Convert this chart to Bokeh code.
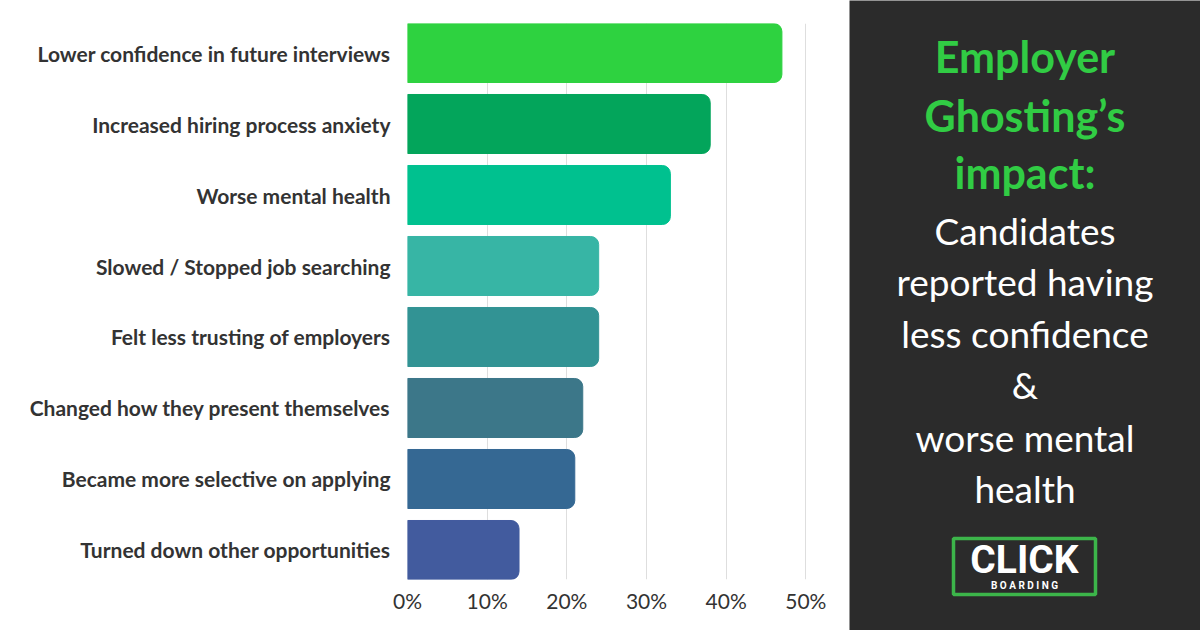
from bokeh.plotting import figure
from bokeh.layouts import row, column
from bokeh.models import (ColumnDataSource, Range1d, FixedTicker, PrintfTickFormatter)
from bokeh.core.properties import value
from bokeh.embed import file_html
from bokeh.resources import INLINE

# ---- data ----
categories = [
    "Lower confidence in future interviews",
    "Increased hiring process anxiety",
    "Worse mental health",
    "Slowed / Stopped job searching",
    "Felt less trusting of employers",
    "Changed how they present themselves",
    "Became more selective on applying",
    "Turned down other opportunities",
]
percent = [47, 38, 33, 24, 24, 22, 21, 14]
bar_colors = ["#2ed240", "#03a55b", "#00c18f", "#37b5a5",
              "#329394", "#3c7789", "#356893", "#425b9e"]
x_ticks = [0, 10, 20, 30, 40, 50]

title_green = ["Employer", "Ghosting\u2019s", "impact:"]
title_white = ["Candidates", "reported having", "less confidence", "&",
               "worse mental", "health"]

FONT = "Lato"
PANEL = "#2b2b2b"

# ---- left chart ----
src = ColumnDataSource(dict(y=list(range(len(categories))), v=percent, c=bar_colors))

p = figure(width=849, height=630, output_backend="svg", toolbar_location=None,
           x_range=Range1d(0, 53.1), y_range=Range1d(7.4155, -0.4155),
           min_border_left=407, min_border_right=19, min_border_top=23,
           min_border_bottom=51)
p.outline_line_color = None
p.background_fill_color = "white"
p.border_fill_color = "white"

p.hbar(y="y", left=0, right="v", height=0.831, color="c", source=src,
       border_radius=(0, 8, 8, 0))

p.ygrid.grid_line_color = None
p.xgrid.grid_line_color = "#dedede"
p.xgrid.grid_line_width = 1
p.xaxis.ticker = FixedTicker(ticks=x_ticks)
p.xaxis.formatter = PrintfTickFormatter(format="%d%%")
p.yaxis.ticker = FixedTicker(ticks=list(range(len(categories))))
p.yaxis.major_label_overrides = {i: c for i, c in enumerate(categories)}

for ax in (p.xaxis, p.yaxis):
    ax.axis_line_color = None
    ax.major_tick_line_color = None
    ax.minor_tick_line_color = None
    ax.major_tick_out = 0
    ax.major_tick_in = 0
    ax.major_label_text_font = FONT
    ax.major_label_text_color = "#333333"

p.yaxis.major_label_text_font_size = "21px"
p.yaxis.major_label_text_font_style = "bold"
p.yaxis.major_label_standoff = 17
p.xaxis.major_label_text_font_size = "21px"
p.xaxis.major_label_standoff = 8

# ---- right panel ----
q = figure(width=351, height=630, output_backend="svg", toolbar_location=None,
           x_range=Range1d(0, 351), y_range=Range1d(630, 0),
           min_border=0, min_border_left=0, min_border_right=0,
           min_border_top=0, min_border_bottom=0)
q.axis.visible = False
q.grid.visible = False
q.outline_line_color = None
q.background_fill_color = PANEL
q.border_fill_color = PANEL

g_src = ColumnDataSource(dict(x=[175.5] * 3, y=[56, 115, 172], t=title_green))
q.text(x="x", y="y", text="t", source=g_src, text_font=value(FONT),
       text_font_style="bold", text_font_size="43px", text_color="#31cc44",
       text_align="center", text_baseline="alphabetic")

w_src = ColumnDataSource(dict(x=[175.5] * 6, y=[230, 281, 333, 384, 437, 488],
                              t=title_white))
q.text(x="x", y="y", text="t", source=w_src, text_font=value(FONT),
       text_font_size="37px", text_color="#ffffff",
       text_align="center", text_baseline="alphabetic")

# logo
q.quad(left=[104], right=[246], top=[538], bottom=[594], fill_color=PANEL,
       line_color="#3cb54a", line_width=3.5)
q.text(x=[175], y=[559], text=["CLICK"], text_font=value("Roboto"),
       text_font_style="bold", text_font_size="39px", text_color="white",
       text_align="center", text_baseline="alphabetic")
q.text(x=[175], y=[585], text=["B O A R D I N G"], text_font=value("Roboto"),
       text_font_style="bold", text_font_size="10px", text_color="white",
       text_align="center", text_baseline="alphabetic")

layout = row(p, column(q, spacing=0), spacing=0)
open("out.html", "w").write(file_html(layout, INLINE))
